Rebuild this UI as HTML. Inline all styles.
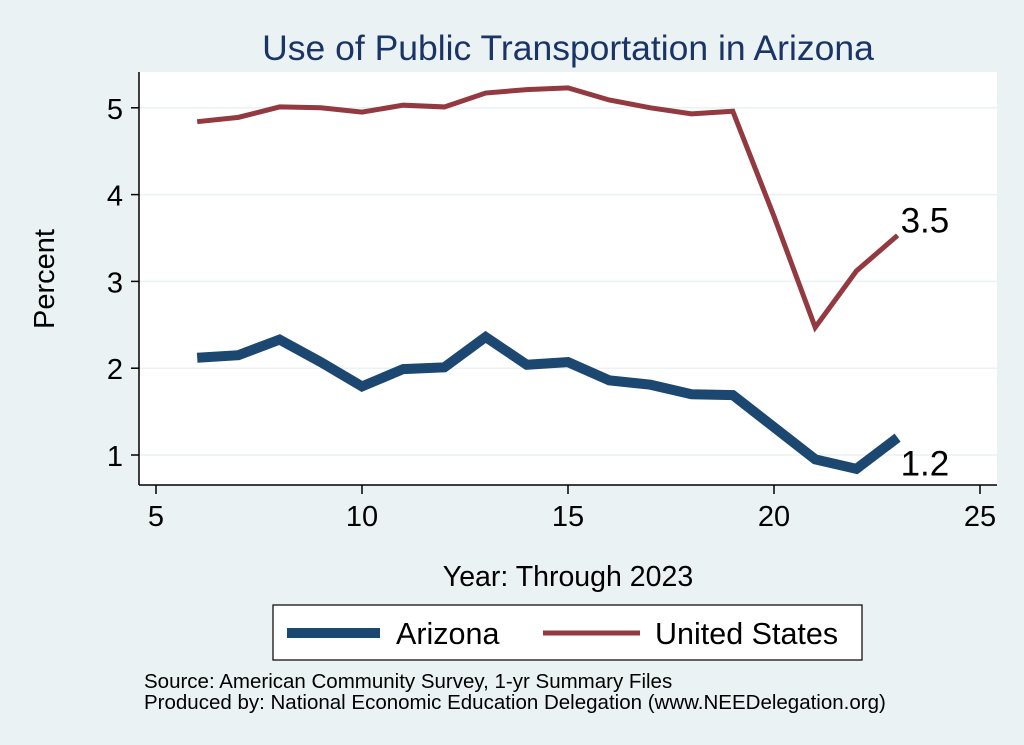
<!DOCTYPE html>
<html><head><meta charset="utf-8"><style>
body{margin:0;background:#eaf2f3;}
svg{display:block;font-family:"Liberation Sans",sans-serif;}
</style></head><body>
<svg width="1024" height="745" viewBox="0 0 1024 745">
<rect width="1024" height="745" fill="#eaf2f3"/>
<rect x="139" y="72" width="858" height="413" fill="#fff"/>
<text x="568" y="60" text-anchor="middle" font-size="35.5" fill="#1a3466">Use of Public Transportation in Arizona</text>
<g id="grid"></g><g id="axes"></g><g id="series"></g>
<text x="54" y="279" text-anchor="middle" font-size="29" transform="rotate(-90 54 279)">Percent</text>
<text x="568" y="586" text-anchor="middle" font-size="28.5">Year: Through 2023</text>
<g>
<rect x="273" y="605" width="589" height="55" fill="#fff" stroke="#000" stroke-width="1.2"/>
<line x1="287" y1="633" x2="380" y2="633" stroke="#1c4770" stroke-width="10"/>
<text x="396" y="644" font-size="30.5">Arizona</text>
<line x1="543" y1="633" x2="640" y2="633" stroke="#923a40" stroke-width="5"/>
<text x="655" y="644" font-size="30.5">United States</text>
</g>
<text x="144" y="688" font-size="20.5">Source: American Community Survey, 1-yr Summary Files</text>
<text x="144" y="709" font-size="20.5">Produced by: National Economic Education Delegation (www.NEEDelegation.org)</text>
</svg>
<script>
const years=[6,7,8,9,10,11,12,13,14,15,16,17,18,19,20,21,22,23];
const usValues=[4.84,4.89,5.01,5.0,4.95,5.03,5.01,5.17,5.21,5.23,5.09,5.0,4.93,4.96,3.75,2.47,3.12,3.53];
const azValues=[2.12,2.15,2.33,2.07,1.79,1.99,2.01,2.36,2.04,2.07,1.86,1.81,1.70,1.69,1.32,0.95,0.84,1.2];
const xTicks=[5,10,15,20,25];
const yTicks=[1,2,3,4,5];
const NS="http://www.w3.org/2000/svg";
const X=v=>156+(v-5)*41.2;
const Y=v=>455-(v-1)*86.8;
function mk(tag,attrs,parent){const e=document.createElementNS(NS,tag);for(const k in attrs)e.setAttribute(k,attrs[k]);document.getElementById(parent).appendChild(e);return e;}
mk('line',{x1:139,y1:72,x2:139,y2:485,stroke:'#000','stroke-width':1.5},'axes');
mk('line',{x1:139,y1:485,x2:997,y2:485,stroke:'#000','stroke-width':1.5},'axes');
yTicks.forEach(t=>{
 const g=mk('line',{x1:139,y1:Y(t),x2:997,y2:Y(t),stroke:'#eaf2f3','stroke-width':1.5},'grid');
 
 
 mk('line',{x1:131,y1:Y(t),x2:139,y2:Y(t),stroke:'#000','stroke-width':1.5},'axes');
 const tx=mk('text',{x:123,y:Y(t)+11,'text-anchor':'end','font-size':29},'axes');
 tx.textContent=t;
 
 
});
xTicks.forEach(t=>{
 mk('line',{x1:X(t),y1:485,x2:X(t),y2:494,stroke:'#000','stroke-width':1.5},'axes');
 const tx=mk('text',{x:X(t),y:526,'text-anchor':'middle','font-size':29},'axes');
 tx.textContent=t;
 
 
});
function line(vals,color,w,name){
 const p=mk('polyline',{points:years.map((y,i)=>X(y)+','+Y(vals[i])).join(' '),fill:'none',stroke:color,'stroke-width':w,'stroke-linejoin':'miter'},'series');
 
 
}
line(usValues,'#923a40',5,'us-line');
line(azValues,'#1c4770',10,'arizona-line');
const n=years.length-1;
const l1=mk('text',{x:X(years[n])+3,y:Y(usValues[n])-3,'font-size':35},'series');
l1.textContent=usValues[n].toFixed(1);


const l2=mk('text',{x:X(years[n])+3,y:Y(azValues[n])+38,'font-size':35},'series');
l2.textContent=azValues[n].toFixed(1);


</script>
</body></html>
